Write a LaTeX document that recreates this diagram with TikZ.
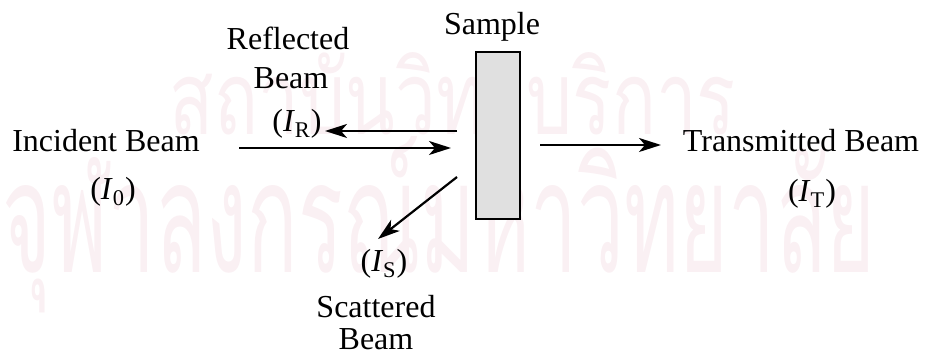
\documentclass[tikz,border=0pt]{standalone}
\usepackage{fontspec}
\setmainfont{Liberation Serif}
\newfontfamily\lserif{Liberation Serif}
\newfontfamily\thaifont[Script=Thai]{Loma}
\usetikzlibrary{arrows.meta,positioning}
\definecolor{wmark}{HTML}{FAF0F3}
\definecolor{smpfill}{HTML}{E0E0E0}
\tikzset{
  beam/.style={-{Stealth[length=11pt,width=7pt,inset=3pt]},line width=1.1pt},
  lbl/.style={font=\lserif\fontsize{16}{19}\selectfont,inner sep=0pt,anchor=base},
  samplebox/.style={draw,line width=1pt,fill=smpfill,minimum width=22pt,
    minimum height=83.5pt,inner sep=0pt},
  wmtext/.style={text=wmark,inner sep=0pt}
}
\newcommand{\intens}[1]{(\textit{I}\textsubscript{#1})}

\begin{document}
\begin{tikzpicture}[x=0.5pt,y=0.5pt]
\useasboundingbox (0,0) rectangle (929,356);
% faint watermark behind the figure
\node[wmtext] (wmA) at (453,262) {\resizebox{283pt}{41pt}{\thaifont สถาบันวิทยบริการ}};
\node[wmtext] (wmB) at (439,131) {\resizebox{436pt}{68pt}{\thaifont จุฬาลงกรณ์มหาวิทยาลัย}};

\node[samplebox] (smp) at (498,220.5) {};
\node[lbl] (smplbl) at (492,321) {Sample};

\node[lbl] (refA) at (288,306) {Reflected};
\node[lbl] (refB) at (291,267) {Beam};
\node[lbl] (refI) at (297,224) {\intens{R}};

\node[lbl] (inc) at (106,204) {Incident Beam};
\node[lbl] (incI) at (113,156) {\intens{0}};

\node[lbl] (tra) at (801,204) {Transmitted Beam};
\node[lbl] (traI) at (812,154) {\intens{T}};

\node[lbl] (scaI) at (384,84) {\intens{S}};
\node[lbl] (scaA) at (376,38) {Scattered};
\node[lbl] (scaB) at (376,6) {Beam};

% beam ends
\coordinate (incS) at (239,208);
\coordinate (incE) at (451,208);
\coordinate (refS) at (457,225);
\coordinate (refE) at (325,225);
\coordinate (traS) at (540,211);
\coordinate (traE) at (661,211);
\coordinate (scaS) at (457,179);
\coordinate (scaE) at (378,117);

\draw[beam] (incS)--(incE);
\draw[beam] (refS)--(refE);
\draw[beam] (traS)--(traE);
\draw[beam] (scaS)--(scaE);
\end{tikzpicture}
\end{document}
